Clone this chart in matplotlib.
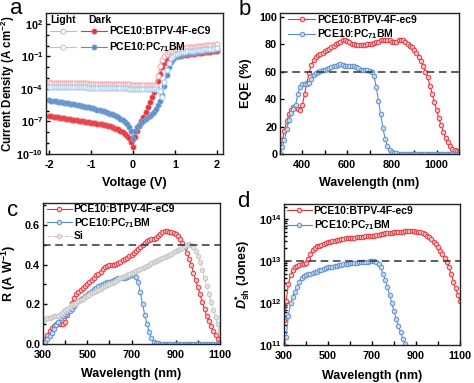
import numpy as np
import matplotlib
matplotlib.use("Agg")
import matplotlib.pyplot as plt
from matplotlib.legend_handler import HandlerTuple
from matplotlib.ticker import FixedLocator, NullFormatter, LogLocator, MultipleLocator

plt.rcParams.update({
    "font.family": ["Liberation Sans", "DejaVu Sans"],
    "font.weight": "bold", "axes.labelweight": "bold",
    "mathtext.fontset": "custom", "mathtext.default": "regular",
    "mathtext.it": "Liberation Sans:italic:bold", "mathtext.rm": "Liberation Sans:bold",
    "axes.unicode_minus": False, "axes.linewidth": 1.0,
})

RED, RED_L, PINK = "#e5313a", "#f7c2c4", "#f2a3a6"
BLUE, BLUE_L, LBLUE = "#5a8dc8", "#c6d9ef", "#a9c8e8"
GRAY, DARK = "#c4c4c4", "#333333"

# ---- panel a: J-V, log10(J) at 0.05 V steps
volt = np.linspace(-2, 2, 81)
dark_btpv = [-6.50, -6.53, -6.56, -6.59, -6.62, -6.65, -6.68, -6.71, -6.74, -6.77,
             -6.80, -6.83, -6.86, -6.89, -6.92, -6.95, -6.98, -7.01, -7.04, -7.07,
             -7.10, -7.13, -7.16, -7.19, -7.22, -7.26, -7.30, -7.34, -7.38, -7.42,
             -7.50, -7.57, -7.65, -7.74, -7.85, -7.98, -8.13, -8.32, -8.57, -8.90,
             -9.40, -8.40, -7.90, -7.45, -7.00, -6.55, -6.10, -5.65, -5.20, -4.75,
             -4.30, -3.80, -3.25, -2.60, -2.00, -1.60, -1.35, -1.22, -1.14, -1.08,
             -1.03, -0.99, -0.95, -0.92, -0.89, -0.86, -0.83, -0.80, -0.78, -0.75,
             -0.73, -0.70, -0.68, -0.65, -0.63, -0.61, -0.58, -0.56, -0.54, -0.52,
             -0.50]
dark_pc71 = [-5.05, -5.08, -5.11, -5.14, -5.17, -5.20, -5.23, -5.26, -5.29, -5.32,
             -5.35, -5.39, -5.43, -5.47, -5.51, -5.55, -5.59, -5.63, -5.67, -5.71,
             -5.75, -5.80, -5.85, -5.90, -5.96, -6.02, -6.08, -6.14, -6.21, -6.28,
             -6.35, -6.43, -6.52, -6.62, -6.74, -6.88, -7.05, -7.25, -7.50, -7.85,
             -8.60, -7.90, -7.55, -7.30, -7.10, -6.93, -6.77, -6.62, -6.47, -6.30,
             -6.10, -5.85, -5.50, -5.10, -4.55, -3.70, -2.70, -1.95, -1.50, -1.25,
             -1.10, -1.00, -0.93, -0.87, -0.82, -0.77, -0.73, -0.69, -0.65, -0.62,
             -0.58, -0.55, -0.52, -0.49, -0.46, -0.43, -0.40, -0.37, -0.35, -0.32,
             -0.30]
light_btpv = [-3.40, -3.41, -3.41, -3.42, -3.42, -3.43, -3.43, -3.44, -3.44, -3.45,
              -3.45, -3.46, -3.46, -3.47, -3.47, -3.48, -3.48, -3.49, -3.49, -3.50,
              -3.50, -3.51, -3.51, -3.52, -3.52, -3.53, -3.53, -3.54, -3.54, -3.55,
              -3.55, -3.56, -3.56, -3.57, -3.57, -3.58, -3.58, -3.59, -3.59, -3.60,
              -3.60, -3.60, -3.61, -3.61, -3.62, -3.62, -3.63, -3.63, -3.64, -3.65,
              -3.67, -3.75, -2.80, -1.90, -1.30, -0.95, -0.75, -0.62, -0.53, -0.46,
              -0.40, -0.35, -0.31, -0.27, -0.24, -0.21, -0.18, -0.15, -0.13, -0.11,
              -0.09, -0.07, -0.05, -0.03, -0.01, 0.01, 0.03, 0.05, 0.07, 0.09,
              0.11]
light_pc71 = [-3.78, -3.78, -3.79, -3.79, -3.80, -3.80, -3.81, -3.81, -3.82, -3.82,
              -3.83, -3.83, -3.84, -3.84, -3.85, -3.85, -3.86, -3.86, -3.87, -3.87,
              -3.88, -3.88, -3.89, -3.89, -3.90, -3.90, -3.91, -3.91, -3.92, -3.92,
              -3.93, -3.93, -3.94, -3.94, -3.95, -3.95, -3.96, -3.96, -3.97, -3.97,
              -3.98, -3.98, -3.99, -3.99, -4.00, -4.00, -4.01, -4.01, -4.02, -4.02,
              -4.03, -4.05, -4.08, -4.15, -4.70, -3.40, -2.30, -1.60, -1.15, -0.95,
              -0.82, -0.74, -0.68, -0.63, -0.59, -0.56, -0.53, -0.50, -0.48, -0.46,
              -0.44, -0.42, -0.40, -0.38, -0.36, -0.34, -0.32, -0.30, -0.28, -0.26,
              -0.24]

# ---- panels b-d: spectra at 10 nm steps, 300-1100 nm
wl = np.arange(300, 1101, 10)
eqe_btpv = [5, 10, 17, 24, 29, 32, 34, 34, 33, 32,
            36, 44, 52, 59, 65, 69, 71, 72, 73, 74,
            75, 76, 77, 78, 79, 80, 81, 82, 83, 83,
            82.5, 81.5, 80.5, 80, 79.5, 79.5, 79.5, 79.5, 79.5, 80,
            80, 80.5, 81, 81.5, 82, 83, 83.5, 83.5, 83.5, 83,
            82, 81.5, 82, 83, 83.5, 83, 82, 80.5, 79, 78,
            76, 74, 71, 68, 64, 60, 56, 50, 44, 38,
            32, 26, 21, 16, 12, 8.5, 6, 4, 3, 2,
            1.5]
eqe_pc71 = [1, 5, 10, 18, 25, 30, 33, 36, 44, 49,
            51, 51, 51, 52, 55, 58, 59, 60, 60.5, 61,
            61, 62, 63, 63.5, 64, 64.5, 65, 65.5, 65, 64.5,
            64, 64, 64, 64, 63.5, 62.5, 61.5, 61, 61, 61,
            60.5, 60, 57, 49, 39, 29, 19, 11, 6, 3,
            1.5, 0.8, 0.4, 0.2, 0.1, 0, 0, 0, 0, 0,
            0, 0, 0, 0, 0, 0, 0, 0, 0, 0,
            0, 0, 0, 0, 0, 0, 0, 0, 0, 0,
            0]
r_btpv = [0.01, 0.025, 0.045, 0.065, 0.08, 0.09, 0.10, 0.10, 0.10, 0.10,
          0.11, 0.145, 0.18, 0.205, 0.23, 0.25, 0.26, 0.27, 0.28, 0.29,
          0.30, 0.31, 0.32, 0.33, 0.345, 0.355, 0.365, 0.38, 0.39, 0.395,
          0.40, 0.40, 0.40, 0.405, 0.41, 0.415, 0.425, 0.43, 0.435, 0.445,
          0.45, 0.46, 0.47, 0.48, 0.49, 0.50, 0.51, 0.52, 0.525, 0.53,
          0.53, 0.535, 0.545, 0.555, 0.565, 0.57, 0.57, 0.565, 0.565, 0.56,
          0.555, 0.545, 0.53, 0.51, 0.49, 0.46, 0.43, 0.40, 0.36, 0.32,
          0.285, 0.25, 0.21, 0.175, 0.14, 0.115, 0.09, 0.065, 0.045, 0.025,
          0.012]
r_pc71 = [0.0, 0.01, 0.025, 0.04, 0.055, 0.075, 0.095, 0.11, 0.13, 0.14,
          0.15, 0.16, 0.165, 0.175, 0.19, 0.205, 0.215, 0.225, 0.23, 0.24,
          0.245, 0.255, 0.265, 0.275, 0.28, 0.29, 0.295, 0.30, 0.305, 0.31,
          0.31, 0.315, 0.32, 0.325, 0.33, 0.33, 0.33, 0.33, 0.335, 0.34,
          0.345, 0.345, 0.335, 0.31, 0.26, 0.20, 0.145, 0.10, 0.06, 0.03,
          0.012, 0.005, 0.003, 0.002, 0.002, 0.002, 0.002, 0.002, 0.002, 0.002,
          0.002, 0.002, 0.002, 0.002, 0.002, 0.002, 0.002, 0.002, 0.002, 0.002,
          0.002, 0.002, 0.002, 0.002, 0.002, 0.002, 0.002, 0.002, 0.002, 0.002,
          0.002]
r_si = [0.12, 0.125, 0.13, 0.13, 0.135, 0.14, 0.14, 0.142, 0.15, 0.16,
        0.170, 0.178, 0.186, 0.194, 0.201, 0.208, 0.215, 0.222, 0.229, 0.236,
        0.243, 0.249, 0.255, 0.261, 0.267, 0.273, 0.279, 0.285, 0.291, 0.297,
        0.303, 0.308, 0.314, 0.319, 0.325, 0.330, 0.335, 0.341, 0.346, 0.351,
        0.357, 0.362, 0.367, 0.373, 0.378, 0.384, 0.389, 0.395, 0.400, 0.406,
        0.411, 0.417, 0.422, 0.428, 0.433, 0.439, 0.444, 0.450, 0.455, 0.461,
        0.466, 0.472, 0.478, 0.485, 0.492, 0.499, 0.505, 0.50, 0.49, 0.47,
        0.445, 0.415, 0.375, 0.33, 0.29, 0.25, 0.21, 0.17, 0.135, 0.10,
        0.07]
# log10 of D* (Jones)
d_btpv = [11.6, 12.05, 12.45, 12.67, 12.78, 12.85, 12.88, 12.91, 12.93, 12.93,
          12.95, 13.05, 13.17, 13.27, 13.32, 13.35, 13.37, 13.39, 13.41, 13.43,
          13.45, 13.46, 13.48, 13.49, 13.50, 13.51, 13.52, 13.53, 13.54, 13.55,
          13.55, 13.56, 13.56, 13.57, 13.57, 13.58, 13.58, 13.59, 13.59, 13.60,
          13.60, 13.61, 13.62, 13.63, 13.64, 13.65, 13.66, 13.67, 13.68, 13.68,
          13.69, 13.69, 13.70, 13.70, 13.70, 13.71, 13.71, 13.71, 13.71, 13.71,
          13.70, 13.70, 13.69, 13.67, 13.64, 13.61, 13.57, 13.52, 13.46, 13.40,
          13.33, 13.25, 13.16, 13.07, 12.98, 12.85, 12.70, 12.50, 12.35, 12.20,
          12.05]
d_pc71 = [11.0, 11.2, 11.7, 12.0, 12.15, 12.27, 12.39, 12.51, 12.59, 12.65,
          12.67, 12.69, 12.69, 12.71, 12.73, 12.75, 12.78, 12.80, 12.82, 12.83,
          12.85, 12.86, 12.87, 12.88, 12.89, 12.90, 12.91, 12.92, 12.93, 12.94,
          12.95, 12.95, 12.96, 12.96, 12.97, 12.97, 12.98, 12.98, 12.99, 13.00,
          13.01, 13.00, 12.98, 12.93, 12.85, 12.70, 12.55, 12.38, 12.20, 12.00,
          11.80, 11.62, 11.45, 11.30, 11.15, 11.03, 10.90]

LAB_BTPV_C = "PCE10:BTPV-4F-eC9"
LAB_BTPV_c = "PCE10:BTPV-4F-ec9"
LAB_PC71 = "PCE10:PC$_{71}$BM"

fig = plt.figure(figsize=(4.74, 3.83), dpi=100)
W, H = 474, 383
def axes_px(l, r, t, b):
    return fig.add_axes([l / W, 1 - b / H, (r - l) / W, (b - t) / H])

axa = axes_px(46, 223, 13, 154)
axb = axes_px(280, 459, 13, 154)
axc = axes_px(43, 220, 203, 344)
axd = axes_px(284, 460, 204, 345)

def style(ax, xminor=None):
    ax.tick_params(which="both", direction="in", width=1, labelsize=7.8)
    ax.tick_params(axis="x", which="both", pad=4)
    ax.tick_params(axis="y", which="both", pad=2)
    ax.tick_params(which="major", length=3)
    ax.tick_params(which="minor", length=2)
    if xminor:
        ax.xaxis.set_minor_locator(MultipleLocator(xminor))
        ax.tick_params(axis="x", which="minor", length=3)
    for s in ax.spines.values():
        s.set_color("#222222")

def spec(ax, x, y, c, cl, label, ls="-"):
    return ax.plot(x, y, ls=ls, marker="o", color=c, ms=3.3, mfc=cl, mec=c,
                   mew=0.65, lw=0.8, label=label)[0]

# a
dr, = axa.plot(volt, 10.0 ** np.array(dark_btpv), "-o", color=RED, ms=3.8, mfc=RED,
               mec="#ee6a70", mew=0.5, lw=0.8)
db, = axa.plot(volt, 10.0 ** np.array(dark_pc71), "-o", color=BLUE, ms=3.8, mfc=BLUE,
               mec="#86abd8", mew=0.5, lw=0.8)
lr, = axa.plot(volt, 10.0 ** np.array(light_btpv), "-o", color=PINK, ms=3.6, mfc="white",
               mec=PINK, mew=0.7, lw=0.8)
lb, = axa.plot(volt, 10.0 ** np.array(light_pc71), "-o", color=LBLUE, ms=3.6, mfc="white",
               mec=LBLUE, mew=0.7, lw=0.8)
axa.set_yscale("log")
axa.set_xlim(-2.08, 2.15)
axa.set_ylim(1e-10, 1e3)
axa.yaxis.set_major_locator(FixedLocator([1e-10, 1e-7, 1e-4, 1e-1, 1e2]))
axa.yaxis.set_minor_locator(FixedLocator([10.0 ** k for k in range(-10, 3)]))
axa.yaxis.set_minor_formatter(NullFormatter())
axa.set_xticks([-2, -1, 0, 1, 2])
style(axa)
axa.set_xlabel("Voltage (V)", fontsize=9)
axa.set_ylabel("Current Density (A cm$^{-2}$)", fontsize=8.3)
axa.xaxis.set_label_coords(0.5, -0.16)
axa.yaxis.set_label_coords(-0.165, 0.5)
axa.legend([(lr, dr), (lb, db)], [LAB_BTPV_C, LAB_PC71],
           handler_map={tuple: HandlerTuple(ndivide=None, pad=0.4)},
           handlelength=5.4, handletextpad=0.2, labelspacing=0.4, fontsize=7.5,
           loc="upper left", bbox_to_anchor=(0.025, 0.905), borderaxespad=0,
           borderpad=0, frameon=False)
axa.text(0.023, 0.952, "Light", transform=axa.transAxes, fontsize=7.5, va="center")
axa.text(0.237, 0.952, "Dark", transform=axa.transAxes, fontsize=7.5, va="center")

# b
spec(axb, wl, eqe_btpv, RED, RED_L, LAB_BTPV_c)
spec(axb, wl, eqe_pc71, BLUE, BLUE_L, LAB_PC71)
axb.axhline(60, ls=(0, (5, 3)), color=DARK, lw=1.1)
axb.set_xlim(300, 1100)
axb.set_ylim(0, 103)
axb.set_xticks([400, 600, 800, 1000])
axb.set_yticks([0, 20, 40, 60, 80, 100])
style(axb, xminor=100)
axb.set_xlabel("Wavelength (nm)", fontsize=9)
axb.set_ylabel("EQE (%)", fontsize=9)
axb.xaxis.set_label_coords(0.5, -0.16)
axb.yaxis.set_label_coords(-0.156, 0.5)
axb.legend(handlelength=2.6, handletextpad=0.2, labelspacing=0.2, fontsize=7.5,
           loc="upper left", bbox_to_anchor=(0.045, 0.985), borderaxespad=0,
           borderpad=0, frameon=False)

# c
spec(axc, wl, r_btpv, RED, RED_L, LAB_BTPV_C)
spec(axc, wl, r_pc71, BLUE, BLUE_L, LAB_PC71)
spec(axc, wl, r_si, GRAY, "#e2e2e2", "Si", ls="--")
axc.axhline(0.5, ls=(0, (5, 3)), color=DARK, lw=1.1)
axc.set_xlim(300, 1100)
axc.set_ylim(0, 0.71)
axc.set_xticks([300, 500, 700, 900, 1100])
axc.set_yticks([0.0, 0.2, 0.4, 0.6])
axc.set_yticks([0.1, 0.3, 0.5, 0.7], minor=True)
axc.set_yticklabels(["0.0", "0.2", "0.4", "0.6"])
style(axc, xminor=100)
axc.set_xlabel("Wavelength (nm)", fontsize=9)
axc.set_ylabel("R (A W$^{-1}$)", fontsize=9)
axc.xaxis.set_label_coords(0.5, -0.17)
axc.yaxis.set_label_coords(-0.141, 0.5)
axc.legend(handlelength=2.4, handletextpad=0.2, labelspacing=0.15, fontsize=7.5,
           loc="upper left", bbox_to_anchor=(0.02, 0.99), borderaxespad=0,
           borderpad=0, frameon=False)

# d
spec(axd, wl, 10.0 ** np.array(d_btpv), RED, RED_L, LAB_BTPV_c)
spec(axd, wl[:len(d_pc71)], 10.0 ** np.array(d_pc71), BLUE, BLUE_L, LAB_PC71)
axd.axhline(1e13, ls=(0, (5, 3)), color=DARK, lw=1.1)
axd.set_yscale("log")
axd.set_xlim(300, 1100)
axd.set_ylim(1e11, 2.3e14)
axd.yaxis.set_major_locator(FixedLocator([1e11, 1e12, 1e13, 1e14]))
axd.yaxis.set_minor_locator(LogLocator(base=10, subs=np.arange(2, 10)))
axd.yaxis.set_minor_formatter(NullFormatter())
axd.set_xticks([300, 500, 700, 900, 1100])
style(axd, xminor=100)
axd.set_xlabel("Wavelength (nm)", fontsize=9)
axd.set_ylabel("$\\mathit{D}^{*}_{sh}$ (Jones)", fontsize=9)
axd.xaxis.set_label_coords(0.5, -0.175)
axd.yaxis.set_label_coords(-0.18, 0.5)
axd.legend(handlelength=2.4, handletextpad=0.2, labelspacing=0.2, fontsize=7.5,
           loc="upper left", bbox_to_anchor=(0.015, 0.985), borderaxespad=0,
           borderpad=0, frameon=False)

for ax in (axa, axb, axc, axd):
    for lab in ax.get_xticklabels() + ax.get_yticklabels():
        lab.set_fontweight("bold")

for letter, x, y in [("a", 10, 14), ("b", 239, 15), ("c", 7, 216), ("d", 237, 207)]:
    fig.text(x / W, 1 - y / H, letter, fontsize=16, fontweight="normal", va="baseline")

fig.savefig("out.png", dpi=100)
